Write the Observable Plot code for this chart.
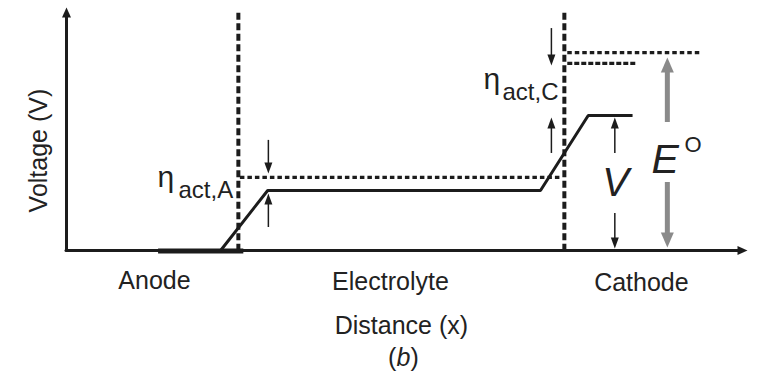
<!DOCTYPE html>
<html><head><meta charset="utf-8">
<script src="https://cdn.jsdelivr.net/npm/d3@7"></script>
<script src="https://cdn.jsdelivr.net/npm/@observablehq/plot@0.6"></script>
<style>body{margin:0;background:#fff}</style>
</head><body><div id="chart"></div>
<script>
// ---- data (distance units 0..100, voltage units 0..100) ----
const profileX = [22.6, 29.5, 69.5, 76.5, 83.0];
const profileV = [0, 24.8, 24.8, 55.8, 55.8];
const anodeSpan = [13.5, 26.0];
const interfaceX = [25.2, 73.0];
const interfaceTop = 98;
const axisTipV = 100.4;
const axisTipX = 99.85;

// dotted reference levels
const anodeLevel = {v: 30.2, x1: 25.5, x2: 72.4};
const eqLevel = {v: 81.8, x1: 73.5, x2: 93.0};
const cathodeLevel = {v: 77.3, x1: 73.5, x2: 83.7};

// black overpotential / V arrows
const arrowX    = [29.6, 29.6, 71.1, 71.1, 80.4, 80.4];
const arrowFrom = [45.5,  9.5, 91.7, 40.1, 40.1, 15.3];
const arrowTip  = [31.8, 23.6, 76.4, 55.0, 55.0,  0.8];
// gray E° arrows
const eArrowX    = [88.1, 88.1];
const eArrowFrom = [52.9, 28.1];
const eArrowTip  = [79.8,  1.2];

// labels
const regionLabels = ["Anode", "Electrolyte", "Cathode"];
const regionX = [12.9, 47.5, 84.3];
const regionV = [-12.8, -13.2, -13.6];

const ink = "#1c1c1c";
const txt = "#222";
const gray = "#8a8a8a";
const font = "Liberation Sans, Arial, Helvetica, sans-serif";

const head = (len, wid) => ({draw(ctx) { ctx.moveTo(0, 0); ctx.lineTo(-wid / 2, len); ctx.lineTo(wid / 2, len); ctx.closePath(); }});
const smallHead = head(11, 8);
const bigHead = head(15, 13);
const axisHead = head(10, 9);

const profile = profileX.map((x, i) => ({x, v: profileV[i]}));
const arrows = arrowX.map((x, i) => ({x, from: arrowFrom[i], tip: arrowTip[i]}));
const eArrows = eArrowX.map((x, i) => ({x, from: eArrowFrom[i], tip: eArrowTip[i]}));
const up = (a) => a.filter(d => d.tip > d.from);
const down = (a) => a.filter(d => d.tip < d.from);
const regions = regionLabels.map((t, i) => ({t, x: regionX[i], v: regionV[i]}));

const chart = Plot.plot({
  width: 757, height: 377,
  marginLeft: 66, marginRight: 9, marginTop: 8, marginBottom: 127,
  x: {domain: [0, 100], axis: null},
  y: {domain: [0, 100], axis: null},
  style: {background: "#fff", fontFamily: font, overflow: "visible"},
  marks: [
    // dashed interfaces
    Plot.ruleX(interfaceX.map(x => ({x})), {x: "x", y1: () => interfaceTop, y2: () => 0, stroke: ink, strokeWidth: 4, strokeDasharray: "7,3.5"}),
    // dotted levels
    Plot.ruleY([anodeLevel], {y: "v", x1: "x1", x2: "x2", stroke: ink, strokeWidth: 3.2, strokeDasharray: "4.5,3"}),
    Plot.ruleY([eqLevel], {y: "v", x1: "x1", x2: "x2", stroke: ink, strokeWidth: 3.2, strokeDasharray: "4.5,3"}),
    Plot.ruleY([cathodeLevel], {y: "v", x1: "x1", x2: "x2", stroke: ink, strokeWidth: 3.2, strokeDasharray: "5,2"}),
    // axes
    Plot.ruleX([{x: 0, y1: axisTipV, y2: 0}], {x: "x", y1: "y1", y2: "y2", insetTop: 8, stroke: ink, strokeWidth: 3, strokeLinecap: "round"}),
    Plot.ruleY([{v: 0, x1: 0, x2: axisTipX}], {y: "v", x1: "x1", x2: "x2", insetRight: 8, stroke: ink, strokeWidth: 3, strokeLinecap: "round"}),
    Plot.dot([{x: 0, v: axisTipV}], {x: "x", y: "v", symbol: axisHead, fill: ink}),
    Plot.dot([{x: axisTipX, v: 0}], {x: "x", y: "v", symbol: axisHead, fill: ink, rotate: 90}),
    // anode electrode
    Plot.ruleY([{v: 0, x1: anodeSpan[0], x2: anodeSpan[1]}], {y: "v", x1: "x1", x2: "x2", stroke: ink, strokeWidth: 5, dy: 0.5}),
    // potential profile
    Plot.line(profile, {x: "x", y: "v", stroke: ink, strokeWidth: 3, strokeLinejoin: "miter", strokeLinecap: "butt"}),
    // black arrows
    Plot.ruleX(up(arrows), {x: "x", y1: "tip", y2: "from", insetTop: 9, stroke: ink, strokeWidth: 1.5}),
    Plot.ruleX(down(arrows), {x: "x", y1: "from", y2: "tip", insetBottom: 9, stroke: ink, strokeWidth: 1.5}),
    Plot.dot(up(arrows), {x: "x", y: "tip", symbol: smallHead, fill: ink}),
    Plot.dot(down(arrows), {x: "x", y: "tip", symbol: smallHead, fill: ink, rotate: 180}),
    // gray E° arrows
    Plot.ruleX(up(eArrows), {x: "x", y1: "tip", y2: "from", insetTop: 13, stroke: gray, strokeWidth: 5}),
    Plot.ruleX(down(eArrows), {x: "x", y1: "from", y2: "tip", insetBottom: 13, stroke: gray, strokeWidth: 5}),
    Plot.dot(up(eArrows), {x: "x", y: "tip", symbol: bigHead, fill: gray}),
    Plot.dot(down(eArrows), {x: "x", y: "tip", symbol: bigHead, fill: gray, rotate: 180}),
    // region labels
    Plot.text(regions, {x: "x", y: "v", text: "t", fontSize: 25, fill: txt}),
    Plot.text([{t: "Distance (x)", x: 49.1, v: -31.0}], {x: "x", y: "v", text: "t", fontSize: 25, fill: txt}),
    Plot.text([{x: 49.4, v: -44.6}], {x: "x", y: "v", text: () => "(", fontSize: 25, fill: txt, textAnchor: "end", dx: -7}),
    Plot.text([{x: 49.4, v: -44.6}], {x: "x", y: "v", text: () => "b", fontSize: 25, fill: txt, fontStyle: "italic"}),
    Plot.text([{x: 49.4, v: -44.6}], {x: "x", y: "v", text: () => ")", fontSize: 25, fill: txt, textAnchor: "start", dx: 7}),
    Plot.text([{t: "Voltage (V)", x: -3.96, v: 41.3}], {x: "x", y: "v", text: "t", fontSize: 25, fill: txt, rotate: -90}),
    // overpotential labels
    Plot.text([{t: "η", x: 13.34, v: 30.4}, {t: "η", x: 61.14, v: 70.9}], {x: "x", y: "v", text: "t", fontSize: 30, fill: txt, textAnchor: "start"}),
    Plot.text([{t: "act,A", x: 16.42, v: 24.7}, {t: "act,C", x: 63.93, v: 65.2}], {x: "x", y: "v", text: "t", fontSize: 24, fill: txt, textAnchor: "start"}),
    // V and E°
    Plot.text([{t: "V", x: 80.5, v: 28.0}], {x: "x", y: "v", text: "t", fontSize: 40, fill: txt, fontStyle: "italic"}),
    Plot.text([{t: "E", x: 85.78, v: 37.6}], {x: "x", y: "v", text: "t", fontSize: 41, fill: txt, fontStyle: "italic", textAnchor: "start"}),
    Plot.text([{t: "O", x: 90.62, v: 43.8}], {x: "x", y: "v", text: "t", fontSize: 22, fill: txt, textAnchor: "start"})
  ]
});
document.getElementById("chart").appendChild(chart);
</script>
</body></html>
